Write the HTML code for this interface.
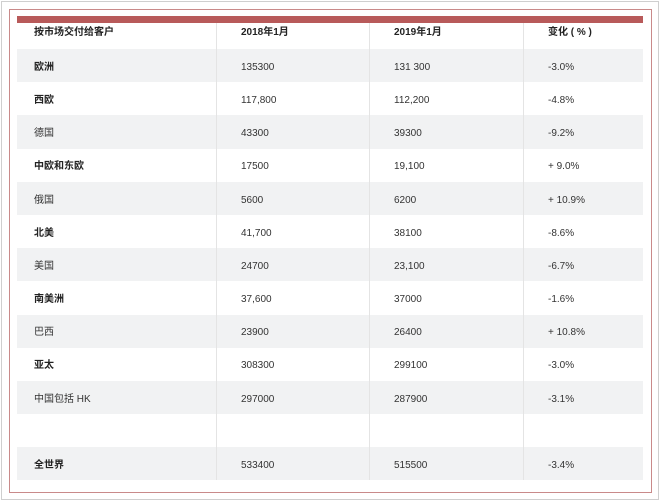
<!DOCTYPE html>
<html><head><meta charset="utf-8"><style>
body{margin:0;width:660px;height:501px;background:#fff;position:relative;overflow:hidden;font-family:"Liberation Sans","Noto Sans CJK SC",sans-serif;}
.frame{position:absolute;left:1px;top:1px;width:656px;height:497px;border:1px solid #cfcfcf;}
.red{position:absolute;left:9px;top:9px;width:641px;height:482px;border:1px solid #c98a8a;}
.bar{position:absolute;left:17px;top:16px;width:626px;height:7px;background:#b85a5a;}
table{position:absolute;left:17px;top:23px;width:626px;border-collapse:collapse;font-size:10px;color:#333;table-layout:fixed;}
td{padding:5px 0 0 0;height:28.2px;line-height:12px;vertical-align:middle;border-right:1px solid #e4e4e4;white-space:nowrap;}
td span{display:inline-block;height:12px;line-height:12px;vertical-align:middle;}
td:last-child{border-right:none;}
tr.h td{height:20px;padding-top:0;padding-bottom:6px;font-weight:bold;color:#222;}
tr.g td{background:#f1f2f3;}
td.c1{width:182px;padding-left:17px;}
td.c2{width:128px;padding-left:24px;}
td.c3{width:129px;padding-left:24px;}
td.c4{padding-left:24px;}
.b{font-weight:bold;color:#222;}
</style></head><body>
<div class="frame"></div>
<div class="red"></div>
<div class="bar"></div>
<table>
<tr class="h"><td class="c1"><span>按市场交付给客户</span></td><td class="c2"><span>2018年1月</span></td><td class="c3"><span>2019年1月</span></td><td class="c4"><span>变化 ( % )</span></td></tr>
<tr class="g"><td class="c1 b"><span>欧洲</span></td><td class="c2"><span>135300</span></td><td class="c3"><span>131 300</span></td><td class="c4"><span>-3.0%</span></td></tr>
<tr><td class="c1 b"><span>西欧</span></td><td class="c2"><span>117,800</span></td><td class="c3"><span>112,200</span></td><td class="c4"><span>-4.8%</span></td></tr>
<tr class="g"><td class="c1"><span>德国</span></td><td class="c2"><span>43300</span></td><td class="c3"><span>39300</span></td><td class="c4"><span>-9.2%</span></td></tr>
<tr><td class="c1 b"><span>中欧和东欧</span></td><td class="c2"><span>17500</span></td><td class="c3"><span>19,100</span></td><td class="c4"><span>+ 9.0%</span></td></tr>
<tr class="g"><td class="c1"><span>俄国</span></td><td class="c2"><span>5600</span></td><td class="c3"><span>6200</span></td><td class="c4"><span>+ 10.9%</span></td></tr>
<tr><td class="c1 b"><span>北美</span></td><td class="c2"><span>41,700</span></td><td class="c3"><span>38100</span></td><td class="c4"><span>-8.6%</span></td></tr>
<tr class="g"><td class="c1"><span>美国</span></td><td class="c2"><span>24700</span></td><td class="c3"><span>23,100</span></td><td class="c4"><span>-6.7%</span></td></tr>
<tr><td class="c1 b"><span>南美洲</span></td><td class="c2"><span>37,600</span></td><td class="c3"><span>37000</span></td><td class="c4"><span>-1.6%</span></td></tr>
<tr class="g"><td class="c1"><span>巴西</span></td><td class="c2"><span>23900</span></td><td class="c3"><span>26400</span></td><td class="c4"><span>+ 10.8%</span></td></tr>
<tr><td class="c1 b"><span>亚太</span></td><td class="c2"><span>308300</span></td><td class="c3"><span>299100</span></td><td class="c4"><span>-3.0%</span></td></tr>
<tr class="g"><td class="c1"><span>中国包括 HK</span></td><td class="c2"><span>297000</span></td><td class="c3"><span>287900</span></td><td class="c4"><span>-3.1%</span></td></tr>
<tr><td class="c1"></td><td class="c2"></td><td class="c3"></td><td class="c4"></td></tr>
<tr class="g"><td class="c1 b"><span>全世界</span></td><td class="c2"><span>533400</span></td><td class="c3"><span>515500</span></td><td class="c4"><span>-3.4%</span></td></tr>
</table>
</body></html>
